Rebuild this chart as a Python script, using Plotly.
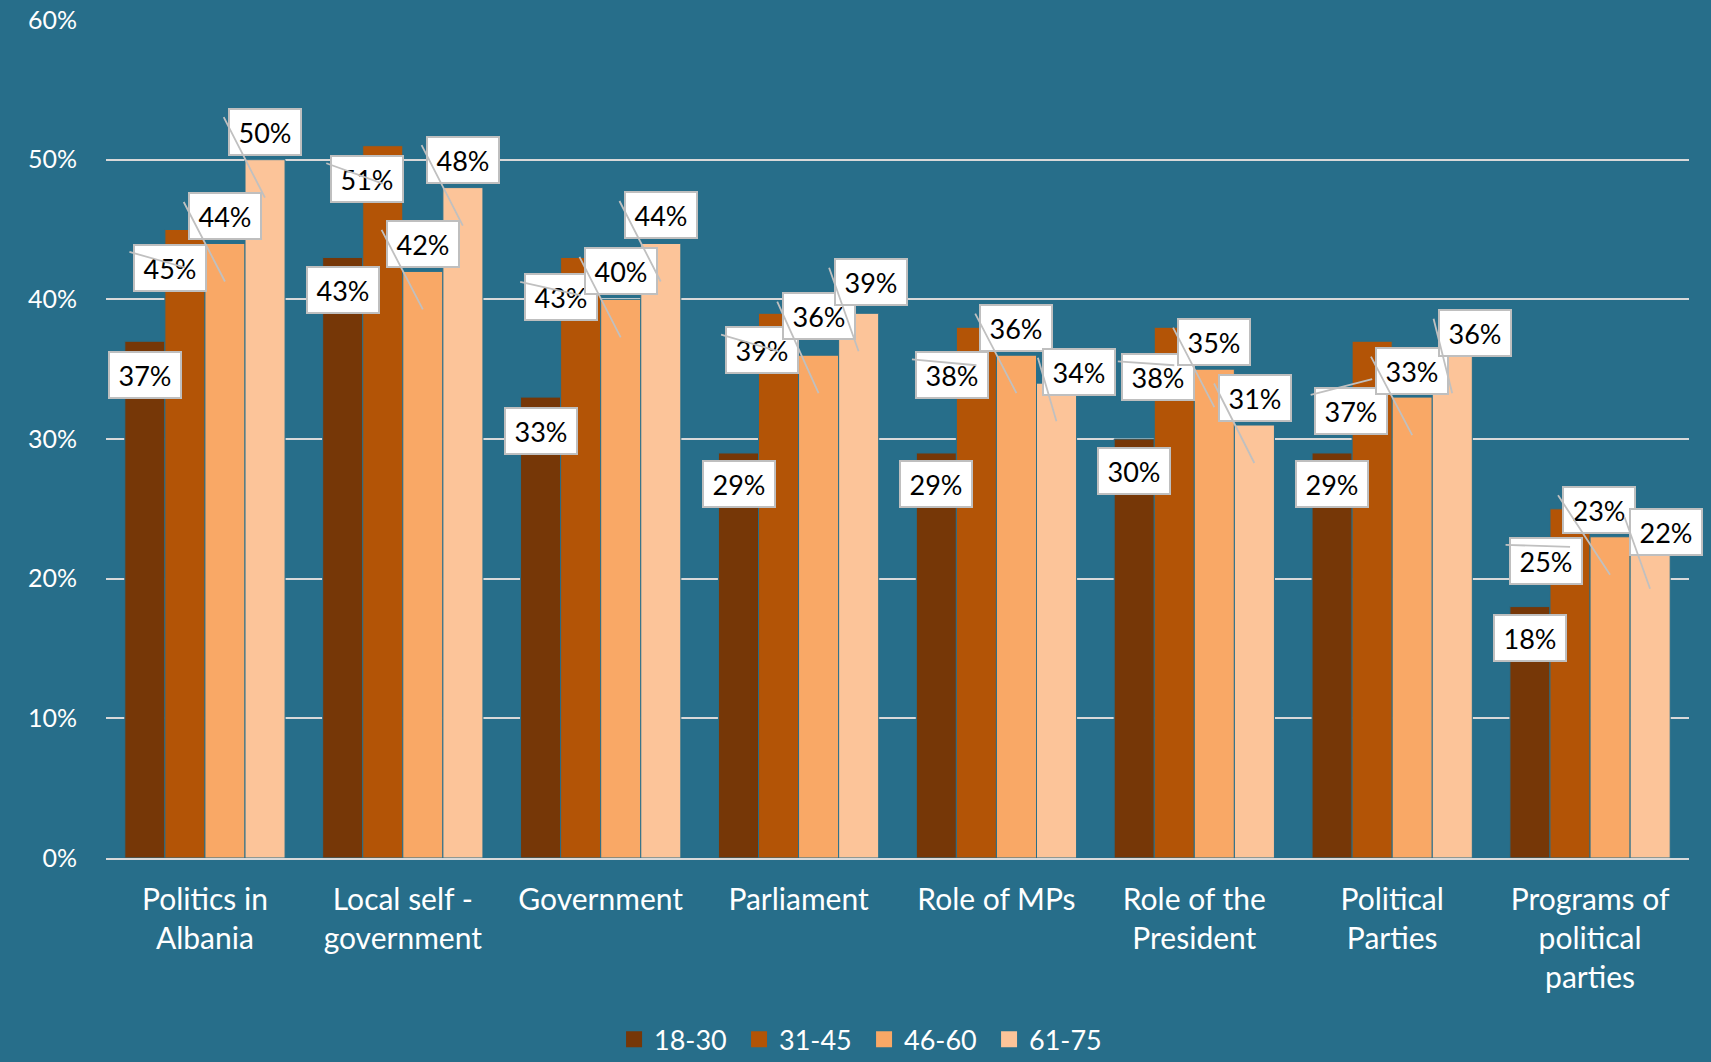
import plotly.graph_objects as go

BG = '#276E8A'
COLORS = ['#763707', '#B35406', '#F9A866', '#FCC499']
FONT = 'Lato'

categories = ['Politics in<br>Albania', 'Local self -<br>government', 'Government', 'Parliament',
              'Role of MPs', 'Role of the<br>President', 'Political<br>Parties',
              'Programs of<br>political<br>parties']
age_groups = ['18-30', '31-45', '46-60', '61-75']

v_18_30 = [37, 43, 33, 29, 29, 30, 29, 18]
v_31_45 = [45, 51, 43, 39, 38, 38, 37, 25]
v_46_60 = [44, 42, 40, 36, 36, 35, 33, 23]
v_61_75 = [50, 48, 44, 39, 34, 31, 36, 22]
series = [v_18_30, v_31_45, v_46_60, v_61_75]

# label box offsets (px) from each bar top, per category, per series: (dx, dy down)
label_offsets = [
    [(0, 34), (-15, 38), (0, -27), (0, -28)],
    [(0, 33), (-16, 33), (0, -27), (0, -28)],
    [(0, 34), (-20, 40), (0, -28), (0, -28)],
    [(0, 31), (-17, 37), (0, -39), (12, -31)],
    [(0, 31), (-24, 48), (0, -27), (23, -11)],
    [(0, 32), (-16, 50), (0, -27), (1, -27)],
    [(0, 31), (-21, 70), (0, -26), (23, -22)],
    [(0, 31), (-24, 52), (-11, -27), (16, -19)],
]
BAR_SHIFT = [-60, -20, 20, 60]

fig = go.Figure()
for name, vals, col in zip(age_groups, series, COLORS):
    fig.add_bar(x=categories, y=vals, name=name, marker_color=col,
                marker_line_color=BG, marker_line_width=1, showlegend=False)
    # legend entry with a bigger square swatch
    fig.add_scatter(x=[None], y=[None], mode='markers', name=name,
                    marker=dict(symbol='square', size=18, color=col))

for s, vals in enumerate(series):
    for c, cat in enumerate(categories):
        dx, dy = label_offsets[c][s]
        fig.add_annotation(x=cat, y=vals[c], xshift=BAR_SHIFT[s] + dx, yshift=-dy,
                           text=f'{vals[c]}%', showarrow=False,
                           font=dict(family=FONT, size=27, color='black'),
                           bgcolor='white', bordercolor='#BFBFBF', borderwidth=2,
                           width=68, height=42, borderpad=1)
        if s > 0:
            # leader line from the label's upper-left down into the bar
            fig.add_annotation(x=cat, y=vals[c], xshift=BAR_SHIFT[s], yshift=-38,
                               text='', showarrow=True, arrowhead=0, arrowwidth=1.8,
                               arrowcolor='#C0C0C0', ax=dx - 42, ay=dy - 54,
                               standoff=0, startstandoff=0)

fig.update_layout(
    barmode='group', bargap=0.19, bargroupgap=0,
    paper_bgcolor=BG, plot_bgcolor=BG,
    width=1711, height=1062,
    margin=dict(l=106, r=22, t=20, b=204),
    font=dict(family=FONT, color='white', size=24),
    legend=dict(orientation='h', xref='container', yref='container', x=0.505, y=0.021,
                xanchor='center', yanchor='middle', font=dict(size=27, color='white'),
                itemwidth=30, entrywidth=80, bgcolor='rgba(0,0,0,0)'),
)
fig.update_yaxes(range=[0, 60], dtick=10, ticksuffix='%', showgrid=True,
                 gridcolor='#D9D9D9', gridwidth=1.5, zeroline=False, automargin=False,
                 tickfont=dict(size=25, color='white'), ticklabelstandoff=28)
fig.update_xaxes(range=[-0.5, len(categories) - 0.5], showline=True, linecolor='#D9D9D9',
                 linewidth=1.5, automargin=False,
                 ticks='outside', ticklen=14, tickcolor=BG,
                 tickfont=dict(size=30, color='white'))

fig.write_html('out.html', config={'displayModeBar': False},
               post_script="document.body.style.margin='0';")
